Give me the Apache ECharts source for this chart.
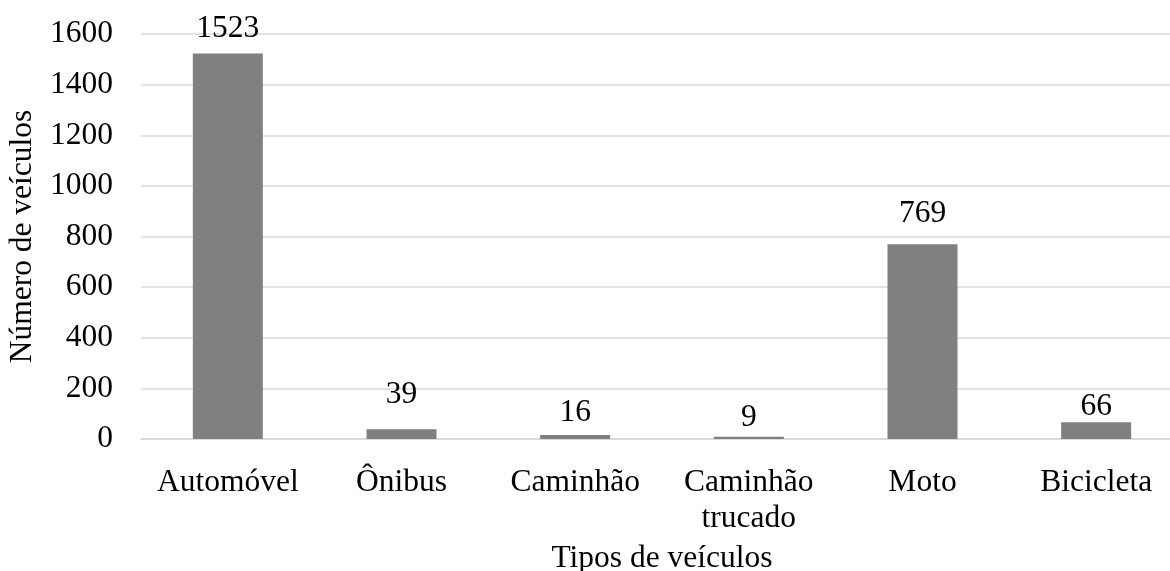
<!DOCTYPE html>
<html>
<head>
<meta charset="utf-8">
<script src="https://cdn.jsdelivr.net/npm/echarts@6/dist/echarts.min.js"></script>
<style>
  html, body { margin: 0; padding: 0; background: #fff; }
  #chart { width: 1170px; height: 571px; }
</style>
</head>
<body>
<div id="chart"></div>
<script>
// Vehicle counts by type
const categories = ['Automóvel', 'Ônibus', 'Caminhão', 'Caminhão\ntrucado', 'Moto', 'Bicicleta'];
const counts = [1523, 39, 16, 9, 769, 66];
const yTicks = { min: 0, max: 1600, interval: 200 };

// Gap (px) between each value label and the top of its bar
const labelGap = [9, 18, 6, 3, 15, 0];

const FONT = '"Liberation Serif", "Times New Roman", serif';
const SIZE = 31.5;

const barData = counts.map((v, i) => ({
  value: v,
  label: { distance: labelGap[i] }
}));

const chart = echarts.init(document.getElementById('chart'), null, { renderer: 'canvas' });
chart.setOption({
  animation: false,
  backgroundColor: '#ffffff',
  textStyle: { fontFamily: FONT, color: '#000' },
  grid: {
    left: 141, top: 34, width: 1042, bottom: 132,
    containLabel: false,
    outerBoundsMode: 'none'
  },
  xAxis: {
    type: 'category',
    data: categories,
    name: 'Tipos de veículos',
    nameLocation: 'middle',
    nameGap: 104,
    nameTextStyle: { fontFamily: FONT, fontSize: SIZE, color: '#000' },
    axisLine: { show: true, lineStyle: { color: '#d9d9d9', width: 1.5 } },
    axisTick: { show: false },
    axisLabel: {
      interval: 0,
      margin: 26,
      fontFamily: FONT,
      fontSize: SIZE,
      color: '#000',
      lineHeight: 36
    }
  },
  yAxis: {
    type: 'value',
    min: yTicks.min,
    max: yTicks.max,
    interval: yTicks.interval,
    name: 'Número de veículos',
    nameLocation: 'middle',
    nameGap: 100,
    nameTextStyle: { fontFamily: FONT, fontSize: SIZE, color: '#000' },
    axisLine: { show: false },
    axisTick: { show: false },
    axisLabel: {
      margin: 28,
      fontFamily: FONT,
      fontSize: SIZE,
      color: '#000',
      formatter: (v) => String(v)
    },
    splitLine: { show: true, lineStyle: { color: '#d9d9d9', width: 1.5 } }
  },
  series: [{
    type: 'bar',
    data: barData,
    barWidth: 70,
    itemStyle: { color: '#808080' },
    label: {
      show: true,
      position: 'top',
      fontFamily: FONT,
      fontSize: SIZE,
      color: '#000'
    }
  }]
});
</script>
</body>
</html>
